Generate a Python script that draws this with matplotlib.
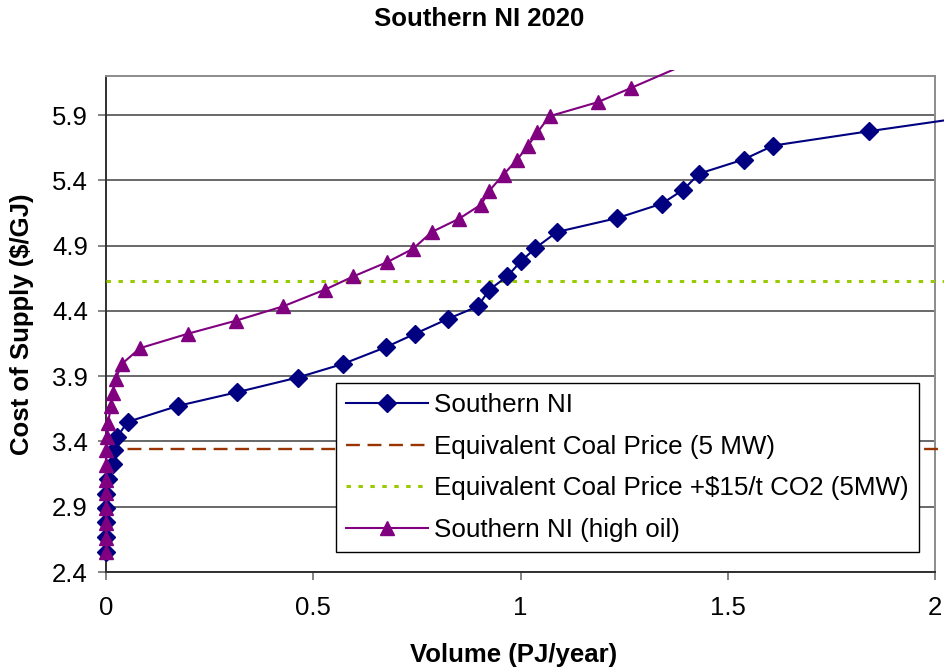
import matplotlib
matplotlib.use("Agg")
import matplotlib.pyplot as plt
from matplotlib.lines import Line2D
from matplotlib.transforms import Bbox, TransformedBbox

plt.rcParams['font.family'] = ['Liberation Sans', 'DejaVu Sans']

# Supply curve: cumulative volume (PJ/year) vs cost of supply ($/GJ)
base_volume = [0, 0, 0, 0, 0, 0.0055, 0.0157, 0.0198, 0.0277, 0.052, 0.174,
               0.317, 0.4625, 0.5725, 0.6755, 0.7455, 0.824, 0.897, 0.925,
               0.968, 1.001, 1.036, 1.088, 1.234, 1.341, 1.393, 1.431, 1.538,
               1.610, 1.841, 2.10]
base_cost = [2.556, 2.668, 2.783, 2.891, 2.998, 3.113, 3.228, 3.336, 3.438,
             3.550, 3.673, 3.778, 3.890, 3.995, 4.123, 4.225, 4.338, 4.435,
             4.563, 4.665, 4.780, 4.882, 5.005, 5.112, 5.222, 5.329, 5.452,
             5.560, 5.667, 5.777, 5.895]

high_oil_volume = [0, 0, 0, 0, 0, 0, 0, 0, 0.0024, 0.0048, 0.0121, 0.0169,
                   0.0234, 0.0386, 0.082, 0.197, 0.313, 0.427, 0.528, 0.597,
                   0.679, 0.741, 0.786, 0.852, 0.905, 0.925, 0.959, 0.992,
                   1.017, 1.041, 1.070, 1.186, 1.267, 1.45]
high_oil_cost = [2.556, 2.658, 2.773, 2.888, 3.003, 3.106, 3.221, 3.336,
                 3.435, 3.543, 3.668, 3.775, 3.880, 3.995, 4.115, 4.225,
                 4.325, 4.435, 4.563, 4.665, 4.775, 4.877, 5.005, 5.107,
                 5.215, 5.322, 5.445, 5.560, 5.661, 5.769, 5.892, 5.999,
                 6.109, 6.36]

coal_price = 3.34
coal_price_co2 = 4.63

series_labels = ["Southern NI", "Equivalent Coal Price (5 MW)",
                 "Equivalent Coal Price +$15/t CO2 (5MW)",
                 "Southern NI (high oil)"]
x_ticks = [0, 0.5, 1, 1.5, 2]
x_tick_labels = ["0", "0.5", "1", "1.5", "2"]
y_ticks = [2.4, 2.9, 3.4, 3.9, 4.4, 4.9, 5.4, 5.9]

W, H = 944, 670
fig = plt.figure(figsize=(W / 100, H / 100), dpi=100)
left, right, top, bottom = 106, 935, 76, 572
ax = fig.add_axes([left / W, 1 - bottom / H, (right - left) / W, (bottom - top) / H])
ax.set_xlim(0, 2)
ax.set_ylim(2.4, 6.2)

# lines may spill slightly past the plot frame, as the spreadsheet renders them
clip = TransformedBbox(Bbox([[-0.03, -0.03], [1.03, 1.012]]), ax.transAxes)

navy = "#000080"
purple = "#800080"
brown = "#993300"
lime = "#99CC00"

brown_ls = (0, (10 / 1.7, 5.5 / 1.7))
lime_ls = (0, (3.2 / 2.2, 5.4 / 2.2))

lines = []
lines += ax.plot(base_volume, base_cost, color=navy, lw=1.5, marker="D",
                 ms=9.5, mec=navy, mfc=navy, zorder=4)
lines += ax.plot([0, 2.2], [coal_price, coal_price], color=brown, lw=1.7,
                 ls=brown_ls, zorder=3)
lines += ax.plot([0, 2.2], [coal_price_co2, coal_price_co2], color=lime,
                 lw=2.2, ls=lime_ls, zorder=3)
lines += ax.plot(high_oil_volume, high_oil_cost, color=purple, lw=1.5,
                 marker="^", ms=10, mec=purple, mfc=purple, zorder=5)
for ln in lines:
    ln.set_clip_path(None)
    ln.set_clip_box(clip)

ax.set_xticks(x_ticks)
ax.set_xticklabels(x_tick_labels)
ax.set_yticks(y_ticks)
ax.set_yticklabels([f"{v:.1f}" for v in y_ticks])
ax.yaxis.grid(True, color="#404040", lw=1.1)
ax.set_axisbelow(True)
ax.tick_params(axis="both", direction="out", length=6, width=1.1,
               color="#606060", labelsize=18.5, pad=7)
ax.tick_params(axis="x", pad=11)

for side in ("left", "bottom"):
    ax.spines[side].set_color("#303030")
    ax.spines[side].set_linewidth(1.4)
for side in ("top", "right"):
    ax.spines[side].set_color("#8c8c8c")
    ax.spines[side].set_linewidth(1.4)

handles = [
    Line2D([], [], color=navy, lw=1.5, marker="D", ms=9.5, mfc=navy, mec=navy),
    Line2D([], [], color=brown, lw=1.7, ls=brown_ls),
    Line2D([], [], color=lime, lw=2.2, ls=lime_ls),
    Line2D([], [], color=purple, lw=1.5, marker="^", ms=10, mfc=purple, mec=purple),
]
leg = ax.legend(handles, series_labels, loc="upper left",
                bbox_to_anchor=(335.7 / W, 1 - 382.7 / H),
                bbox_transform=fig.transFigure, borderaxespad=0,
                fontsize=18.7, frameon=True, fancybox=False, framealpha=1,
                edgecolor="black", handlelength=3.15, handletextpad=0.22,
                borderpad=0.4, labelspacing=0.68, markerscale=1.0)
leg.get_frame().set_linewidth(1.0)
leg.set_zorder(10)

fig.text(479 / W, 1 - 19 / H, "Southern NI 2020", ha="center", va="center",
         fontsize=18.5, fontweight="bold")
fig.text(514 / W, 1 - 655 / H, "Volume (PJ/year)", ha="center", va="center",
         fontsize=18.5, fontweight="bold")
fig.text(22 / W, 1 - 324 / H, "Cost of Supply ($/GJ)", ha="center",
         va="center", rotation=90, fontsize=18.5, fontweight="bold")

fig.savefig("out.png", dpi=100)
